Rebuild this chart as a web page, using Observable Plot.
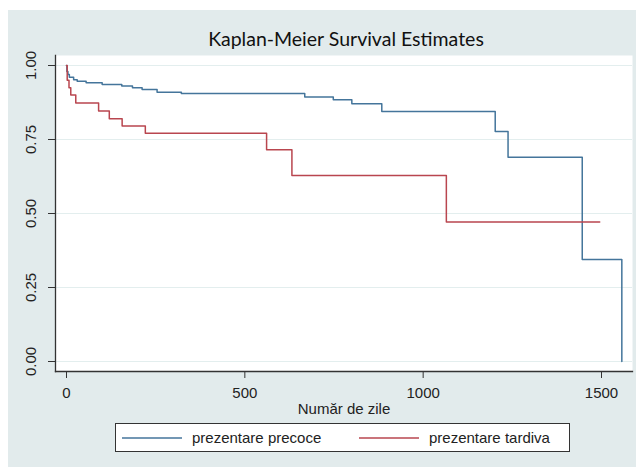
<!DOCTYPE html>
<html>
<head>
<meta charset="utf-8">
<script src="https://cdn.jsdelivr.net/npm/d3@7"></script>
<script src="https://cdn.jsdelivr.net/npm/@observablehq/plot@0.6"></script>
<style>
  html, body { margin: 0; padding: 0; background: #ffffff; }
  #page { position: relative; width: 637px; height: 467px; overflow: hidden; }
  #bg { position: absolute; left: 8px; top: 10px; width: 628px; height: 457px; background: #e2ebec; }
  #title { position: absolute; left: 0; top: 26px; width: 692px; text-align: center; font-family: Lato, sans-serif; font-size: 19.5px; color: #111; line-height: 26px; }
  #chart { position: absolute; left: 0; top: 50px; }
  #legend { position: absolute; left: 115px; top: 423px; width: 455px; height: 29px; background: #ffffff; border: 1.5px solid #333; box-sizing: border-box; font-family: "Liberation Sans", Arial, sans-serif; font-size: 15px; color: #222; }
  .item { position: absolute; top: 0; height: 100%; display: flex; align-items: center; }
  .item svg { margin-right: 10px; }
</style>
</head>
<body>
<div id="page">
  <div id="bg"></div>
  <div id="title">Kaplan-Meier Survival Estimates</div>
  <div id="chart"></div>
  <div id="legend"></div>
</div>
<script>
// Series: prezentare precoce (blue)
const precoceDays = [0, 1, 4, 8, 20, 30, 55, 100, 155, 185, 212, 254, 322, 668, 748, 800, 884, 1202, 1238, 1446, 1557];
const precoceSurv = [1.0, 0.98, 0.97, 0.96, 0.952, 0.947, 0.942, 0.936, 0.931, 0.925, 0.919, 0.91, 0.905, 0.894, 0.884, 0.871, 0.845, 0.777, 0.69, 0.345, 0.0];
// Series: prezentare tardiva (red)
const tardivaDays = [0, 2, 7, 12, 26, 90, 120, 156, 221, 561, 632, 1065, 1495];
const tardivaSurv = [1.0, 0.95, 0.925, 0.9, 0.873, 0.846, 0.82, 0.796, 0.771, 0.715, 0.628, 0.471, 0.471];

const seriesNames = ["prezentare precoce", "prezentare tardiva"];
const seriesColors = ["#44759b", "#b9464f"];
const xTicks = [0, 500, 1000, 1500];
const yTicks = [0, 0.25, 0.5, 0.75, 1];
const xLabel = "Număr de zile";

const data = [
  ...precoceDays.map((d, i) => ({group: seriesNames[0], day: d, surv: precoceSurv[i]})),
  ...tardivaDays.map((d, i) => ({group: seriesNames[1], day: d, surv: tardivaSurv[i]}))
];

const font = '"Liberation Sans", Arial, sans-serif';

const chart = Plot.plot({
  width: 637,
  height: 370,
  marginLeft: 55,
  marginRight: 5,
  marginTop: 5,
  marginBottom: 49,
  style: {background: "transparent", fontFamily: font, fontSize: "15px", color: "#222"},
  x: {domain: [0, 1500], range: [66, 601]},
  y: {domain: [0, 1], range: [311, 15]},
  color: {domain: seriesNames, range: seriesColors},
  marks: [
    Plot.frame({fill: "#ffffff", stroke: null}),
    Plot.gridY(yTicks, {stroke: "#e3eeee", strokeOpacity: 1, strokeWidth: 1.2}),
    Plot.axisX({ticks: xTicks, tickSize: 7, tickPadding: 9, tickFormat: d3.format("d"), label: null, stroke: "#333", fontSize: 15}),
    Plot.axisY({ticks: yTicks, tickSize: 7, tickPadding: 13, tickRotate: -90, textAnchor: "middle", tickFormat: d3.format(".2f"), label: null, stroke: "#333", fontSize: 15}),
    Plot.frame({anchor: "left", stroke: "#333", strokeWidth: 1.3}),
    Plot.frame({anchor: "bottom", stroke: "#333", strokeWidth: 1.3}),
    Plot.text([xLabel], {frameAnchor: "bottom", dy: 42, text: d => d, fontSize: 15, fill: "#222"}),
    Plot.line(data, {x: "day", y: "surv", z: "group", stroke: "group", curve: "step-after", strokeWidth: 1.5})
  ]
});
document.getElementById("chart").appendChild(chart);

// Legend
const legend = document.getElementById("legend");
const legendX = [6, 243];
seriesNames.forEach((name, i) => {
  const item = document.createElement("div");
  item.className = "item";
  item.style.left = legendX[i] + "px";
  item.innerHTML = `<svg width="60" height="4"><line x1="0" y1="2" x2="60" y2="2" stroke="${seriesColors[i]}" stroke-width="1.5"/></svg><span>${name}</span>`;
  legend.appendChild(item);
});
</script>
</body>
</html>
